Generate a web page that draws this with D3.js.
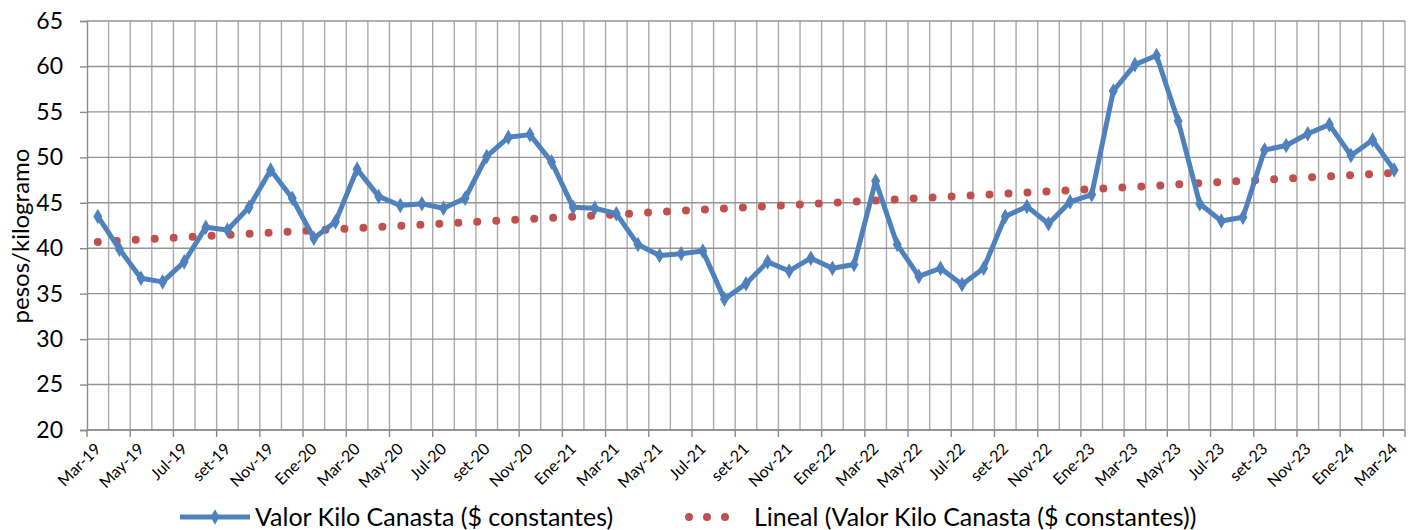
<!DOCTYPE html>
<html><head><meta charset="utf-8">
<script src="https://cdn.jsdelivr.net/npm/d3@7"></script>
<style>body{margin:0;background:#fff}svg{display:block}text{font-family:Lato,"Open Sans",sans-serif}</style>
</head><body><svg id="c" width="1416" height="530"></svg>
<script>
const months = ["Mar-19","Abr-19","May-19","Jun-19","Jul-19","Ago-19","set-19","Oct-19","Nov-19","Dic-19",
"Ene-20","Feb-20","Mar-20","Abr-20","May-20","Jun-20","Jul-20","Ago-20","set-20","Oct-20","Nov-20","Dic-20",
"Ene-21","Feb-21","Mar-21","Abr-21","May-21","Jun-21","Jul-21","Ago-21","set-21","Oct-21","Nov-21","Dic-21",
"Ene-22","Feb-22","Mar-22","Abr-22","May-22","Jun-22","Jul-22","Ago-22","set-22","Oct-22","Nov-22","Dic-22",
"Ene-23","Feb-23","Mar-23","Abr-23","May-23","Jun-23","Jul-23","Ago-23","set-23","Oct-23","Nov-23","Dic-23",
"Ene-24","Feb-24","Mar-24"];
const valorKilo = [43.5,39.9,36.7,36.3,38.5,42.3,42.0,44.5,48.6,45.5,
41.1,42.9,48.7,45.7,44.7,44.9,44.4,45.5,50.1,52.2,52.5,49.5,
44.5,44.4,43.8,40.4,39.2,39.4,39.7,34.4,36.1,38.5,37.5,38.9,
37.8,38.2,47.4,40.4,36.9,37.8,36.0,37.8,43.5,44.6,42.7,45.1,
45.9,57.3,60.2,61.2,54.0,44.9,43.0,43.4,50.8,51.3,52.6,53.6,
50.2,51.9,48.6];
const yTicks = [20,25,30,35,40,45,50,55,60,65];
const serieName = "Valor Kilo Canasta ($ constantes)";
const trendName = "Lineal (Valor Kilo Canasta ($ constantes))";
const yTitle = "pesos/kilogramo";

const svg = d3.select("#c");
const L = 87, R = 1405, T = 21, B = 430;
const x = d3.scaleBand().domain(months).range([L, R]).paddingInner(0).paddingOuter(0);
const y = d3.scaleLinear().domain([20, 65]).range([B, T]);
const cx = m => x(m) + x.bandwidth() / 2;

// vertical gridlines at category boundaries
const g = svg.append("g");
months.forEach((m, i) => {
  if (i === 0) return;
  g.append("line").attr("x1", x(m)).attr("x2", x(m)).attr("y1", T).attr("y2", B)
    .attr("stroke", "#aaa").attr("stroke-width", 1.4);
});
g.append("line").attr("x1", R).attr("x2", R).attr("y1", T).attr("y2", B).attr("stroke", "#aaa").attr("stroke-width", 1.4);
// horizontal gridlines
yTicks.forEach(t => {
  g.append("line").attr("x1", L).attr("x2", R).attr("y1", y(t)).attr("y2", y(t))
    .attr("stroke", "#959595").attr("stroke-width", 1.4);
});

// y axis
const yAxis = d3.axisLeft(y).tickValues(yTicks).tickSize(7).tickPadding(17);
const ya = svg.append("g").attr("transform", `translate(${L},0)`).call(yAxis);
ya.select(".domain").attr("stroke", "#8a8a8a").attr("stroke-width", 1.4);
ya.selectAll(".tick line").attr("stroke", "#8a8a8a").attr("stroke-width", 1.4);
ya.selectAll("text").attr("font-size", 23).attr("fill", "#000").attr("font-family", "Lato, sans-serif");

// x axis
const xa = svg.append("g").attr("transform", `translate(0,${B})`);
xa.append("line").attr("x1", L).attr("x2", R).attr("stroke", "#8a8a8a").attr("stroke-width", 1.4);
months.forEach((m, i) => {
  if (i % 2 === 0) {
    xa.append("line").attr("x1", x(m)).attr("x2", x(m)).attr("y1", 0).attr("y2", 7)
      .attr("stroke", "#8a8a8a").attr("stroke-width", 1.4);
    xa.append("text").attr("text-anchor", "end").attr("font-size", 16).attr("fill", "#000")
      .attr("transform", `translate(${cx(m) + 4},${20}) rotate(-45)`).text(m);
  }
});
xa.append("line").attr("x1", R).attr("x2", R).attr("y1", 0).attr("y2", 7).attr("stroke", "#8a8a8a").attr("stroke-width", 1.4);

// y title
svg.append("text").attr("transform", `translate(29,236) rotate(-90)`)
  .attr("text-anchor", "middle").attr("font-size", 24).attr("fill", "#000").text(yTitle);

// linear trend (least squares on the series)
const n = valorKilo.length;
const xs = d3.range(n);
const mx = d3.mean(xs), my = d3.mean(valorKilo);
const slope = d3.sum(xs, i => (i - mx) * (valorKilo[i] - my)) / d3.sum(xs, i => (i - mx) ** 2);
const icpt = my - slope * mx;
svg.append("line")
  .attr("x1", cx(months[0])).attr("y1", y(icpt))
  .attr("x2", cx(months[n - 1])).attr("y2", y(icpt + slope * (n - 1)))
  .attr("stroke", "#C0504D").attr("stroke-width", 8).attr("stroke-linecap", "round")
  .attr("stroke-dasharray", "0 19");

// series line
const line = d3.line().x((d, i) => cx(months[i])).y(d => y(d));
svg.append("path").datum(valorKilo).attr("d", line).attr("fill", "none")
  .attr("stroke", "#4F81BD").attr("stroke-width", 5).attr("stroke-linejoin", "round");
const diamond = d3.symbol().type(d3.symbolDiamond).size(70);
svg.append("g").selectAll("path").data(valorKilo).join("path")
  .attr("d", diamond).attr("transform", (d, i) => `translate(${cx(months[i])},${y(d)})`)
  .attr("fill", "#4F81BD");

// legend
const lg = svg.append("g");
lg.append("line").attr("x1", 180).attr("x2", 250).attr("y1", 517).attr("y2", 517)
  .attr("stroke", "#4F81BD").attr("stroke-width", 5);
lg.append("path").attr("d", diamond).attr("transform", "translate(215,517)").attr("fill", "#4F81BD");
lg.append("text").attr("x", 255).attr("y", 526).attr("font-size", 25).attr("fill", "#000").text(serieName);
lg.append("line").attr("x1", 689).attr("x2", 743).attr("y1", 517).attr("y2", 517)
  .attr("stroke", "#C0504D").attr("stroke-width", 8).attr("stroke-linecap", "round").attr("stroke-dasharray", "0 18");
lg.append("text").attr("x", 754).attr("y", 526).attr("font-size", 25).attr("fill", "#000").text(trendName);
</script></body></html>
